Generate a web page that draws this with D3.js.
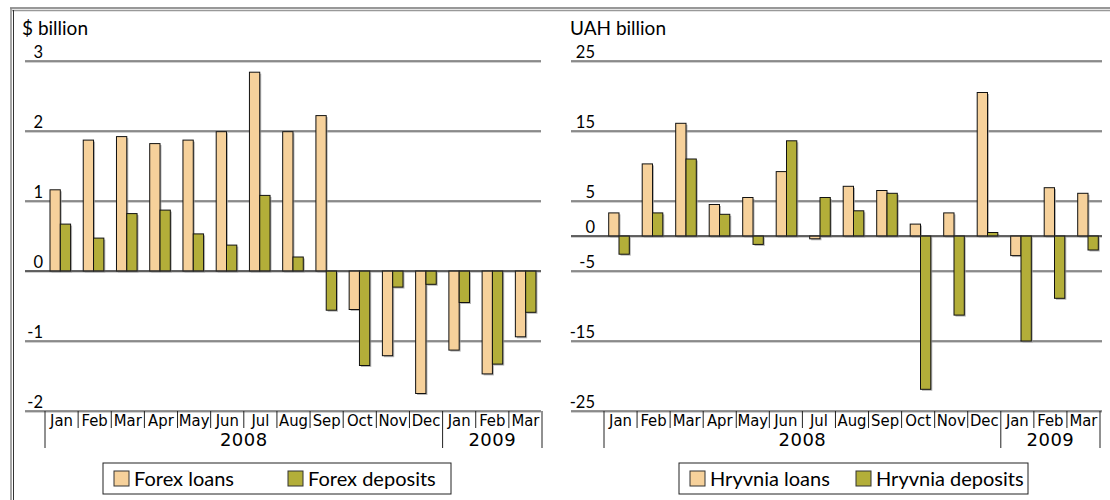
<!DOCTYPE html>
<html>
<head>
<meta charset="utf-8">
<script src="https://cdn.jsdelivr.net/npm/d3@7"></script>
<style>
  body { margin: 0; background: #fff; }
  text { font-family: Lato, "Open Sans", sans-serif; fill: #000; }
  .month { font-family: "Liberation Sans Narrow", "DejaVu Sans Condensed", sans-serif; font-size: 16.5px; }
  .year { font-family: "DejaVu Sans", sans-serif; font-size: 18px; letter-spacing: 0.5px; }
</style>
</head>
<body>
<div id="chart"></div>
<script>
// data
var periods = ["2008-01", "2008-02", "2008-03", "2008-04", "2008-05", "2008-06", "2008-07", "2008-08",
    "2008-09", "2008-10", "2008-11", "2008-12", "2009-01", "2009-02", "2009-03"];
var monthLabels = ["Jan", "Feb", "Mar", "Apr", "May", "Jun", "Jul", "Aug", "Sep", "Oct", "Nov", "Dec", "Jan", "Feb", "Mar"];
var years = [{ label: "2008", from: 0, to: 12 }, { label: "2009", from: 12, to: 15 }];

var forexLoans = [1.16, 1.87, 1.92, 1.82, 1.87, 1.99, 2.84, 1.99, 2.22, -0.55, -1.21, -1.75, -1.13, -1.47, -0.94];
var forexDeposits = [0.67, 0.47, 0.82, 0.87, 0.53, 0.37, 1.08, 0.20, -0.56, -1.35, -0.23, -0.19, -0.45, -1.33, -0.59];
var hryvniaLoans = [3.3, 10.3, 16.1, 4.5, 5.5, 9.2, -0.4, 7.1, 6.5, 1.7, 3.3, 20.5, -2.8, 6.9, 6.1];
var hryvniaDeposits = [-2.6, 3.3, 11.0, 3.1, -1.2, 13.6, 5.5, 3.6, 6.1, -21.9, -11.3, 0.5, -15.0, -8.9, -2.0];

var forexTicks = [3, 2, 1, 0, -1, -2];
var hryvniaTicks = [25, 15, 5, 0, -5, -15, -25];

var loanColor = "#f6d19b",
    depositColor = "#b3ae39";

var width = 1110,
    height = 500;

var svg = d3.select("#chart")
    .append("svg")
    .attr("width", width)
    .attr("height", height);

// outer frame
svg.append("line").attr("x1", 10).attr("x2", width).attr("y1", 8).attr("y2", 8)
    .attr("stroke", "#333").attr("stroke-width", 1.2);
svg.append("line").attr("x1", 12).attr("x2", width).attr("y1", 10.5).attr("y2", 10.5)
    .attr("stroke", "#999").attr("stroke-width", 1.5);
svg.append("line").attr("x1", 11).attr("x2", 11).attr("y1", 8).attr("y2", height)
    .attr("stroke", "#888").attr("stroke-width", 1.5);
svg.append("line").attr("x1", 13.5).attr("x2", 13.5).attr("y1", 10).attr("y2", height)
    .attr("stroke", "#333").attr("stroke-width", 1);

function drawPanel(cfg) {

    var g = svg.append("g");

    var y = d3.scaleLinear()
        .domain(cfg.domain)
        .range([411, 61]);

    // month label bands
    var xLab = d3.scaleBand()
        .domain(periods)
        .range(cfg.labelRange);

    // bar bands (slightly different pitch in the original)
    var xBar = d3.scaleBand()
        .domain(periods)
        .range(cfg.barRange);

    var xSeries = d3.scaleBand()
        .domain(["loans", "deposits"])
        .range([cfg.barOffset, cfg.barOffset + 20.6]);

    g.append("text")
        .attr("x", cfg.unitX)
        .attr("y", 35)
        .style("font-size", "19px")
        .text(cfg.unit);

    // gridlines
    var grid = g.selectAll(".grid")
        .data(cfg.ticks)
        .enter()
        .append("g")
        .attr("class", "grid");

    grid.append("line")
        .attr("x1", cfg.gridX[0])
        .attr("x2", cfg.gridX[1])
        .attr("y1", d => y(d) + 1.2)
        .attr("y2", d => y(d) + 1.2)
        .attr("stroke", "#bbb")
        .attr("stroke-width", 1);

    grid.append("line")
        .attr("x1", cfg.gridX[0])
        .attr("x2", cfg.gridX[1])
        .attr("y1", d => y(d))
        .attr("y2", d => y(d))
        .attr("stroke", "#2a2a2a")
        .attr("stroke-width", 1.1);

    grid.append("text")
        .attr("x", cfg.tickRight)
        .attr("y", d => y(d) - 3)
        .attr("text-anchor", "end")
        .style("font-size", "16.5px")
        .text(d => d);

    var rows = periods.map(function (p, i) {
        return { period: p, loans: cfg.loans[i], deposits: cfg.deposits[i] };
    });

    var bars = [];
    rows.forEach(function (r) {
        bars.push({ period: r.period, key: "loans", value: r.loans });
        bars.push({ period: r.period, key: "deposits", value: r.deposits });
    });

    var color = d3.scaleOrdinal()
        .domain(["loans", "deposits"])
        .range([loanColor, depositColor]);

    // soft shadows
    g.selectAll(".shadow")
        .data(bars)
        .enter()
        .append("rect")
        .attr("class", "shadow")
        .attr("x", d => xBar(d.period) + xSeries(d.key) + 1.5)
        .attr("y", d => Math.min(y(d.value), y(0)) + 1.5)
        .attr("width", xSeries.bandwidth())
        .attr("height", d => Math.abs(y(d.value) - y(0)))
        .attr("fill", "#999")
        .attr("opacity", 0.7);

    g.selectAll(".bar")
        .data(bars)
        .enter()
        .append("rect")
        .attr("class", "bar")
        .attr("x", d => xBar(d.period) + xSeries(d.key))
        .attr("y", d => Math.min(y(d.value), y(0)))
        .attr("width", xSeries.bandwidth())
        .attr("height", d => Math.abs(y(d.value) - y(0)))
        .attr("fill", d => color(d.key))
        .attr("stroke", "#111")
        .attr("stroke-width", 1);

    // zero line over the bars
    g.append("line")
        .attr("x1", cfg.gridX[0])
        .attr("x2", cfg.gridX[1])
        .attr("y1", y(0))
        .attr("y2", y(0))
        .attr("stroke", "#333")
        .attr("stroke-width", 1.1);

    // category axis
    var axisY = y(cfg.domain[0]);
    var step = xLab.step();
    var bounds = d3.range(periods.length + 1);

    g.selectAll(".sep")
        .data(bounds)
        .enter()
        .append("line")
        .attr("class", "sep")
        .attr("x1", i => cfg.labelRange[0] + i * step)
        .attr("x2", i => cfg.labelRange[0] + i * step)
        .attr("y1", axisY)
        .attr("y2", i => (i == 0 || i == 12 || i == 15) ? axisY + 37 : axisY + 17)
        .attr("stroke", "#222")
        .attr("stroke-width", 1);

    g.selectAll(".month")
        .data(periods)
        .enter()
        .append("text")
        .attr("class", "month")
        .attr("x", d => xLab(d) + step / 2)
        .attr("y", axisY + 15)
        .attr("text-anchor", "middle")
        .text((d, i) => monthLabels[i]);

    g.selectAll(".year")
        .data(years)
        .enter()
        .append("text")
        .attr("class", "year")
        .attr("x", d => cfg.labelRange[0] + (d.from + d.to) / 2 * step)
        .attr("y", axisY + 35)
        .attr("text-anchor", "middle")
        .text(d => d.label);

    // legend
    var lg = g.append("g")
        .attr("transform", "translate(" + cfg.legend.x + ",463)");

    lg.append("rect")
        .attr("width", cfg.legend.w)
        .attr("height", 31)
        .attr("fill", "#fff")
        .attr("stroke", "#222")
        .attr("stroke-width", 1);

    var items = lg.selectAll(".item")
        .data([{ key: "loans", name: cfg.names[0], x: 11 }, { key: "deposits", name: cfg.names[1], x: cfg.legend.second }])
        .enter()
        .append("g")
        .attr("transform", d => "translate(" + d.x + ",0)");

    items.append("rect")
        .attr("y", 8)
        .attr("width", 15)
        .attr("height", 15)
        .attr("fill", d => color(d.key))
        .attr("stroke", "#333")
        .attr("stroke-width", 1);

    items.append("text")
        .attr("x", 20)
        .attr("y", 23)
        .style("font-size", "20px")
        .text(d => d.name);
}

drawPanel({
    unit: "$ billion",
    unitX: 22,
    domain: [-2, 3],
    ticks: forexTicks,
    tickRight: 43,
    gridX: [25, 541],
    labelRange: [45, 542],
    barRange: [44, 542.6],
    barOffset: 6,
    loans: forexLoans,
    deposits: forexDeposits,
    names: ["Forex loans", "Forex deposits"],
    legend: { x: 103, w: 348, second: 185 }
});

drawPanel({
    unit: "UAH billion",
    unitX: 570,
    domain: [-25, 25],
    ticks: hryvniaTicks,
    tickRight: 595,
    gridX: [571, 1102],
    labelRange: [604, 1100],
    barRange: [603.7, 1106.2],
    barOffset: 5,
    loans: hryvniaLoans,
    deposits: hryvniaDeposits,
    names: ["Hryvnia loans", "Hryvnia deposits"],
    legend: { x: 679, w: 349, second: 177 }
});
</script>
</body>
</html>
